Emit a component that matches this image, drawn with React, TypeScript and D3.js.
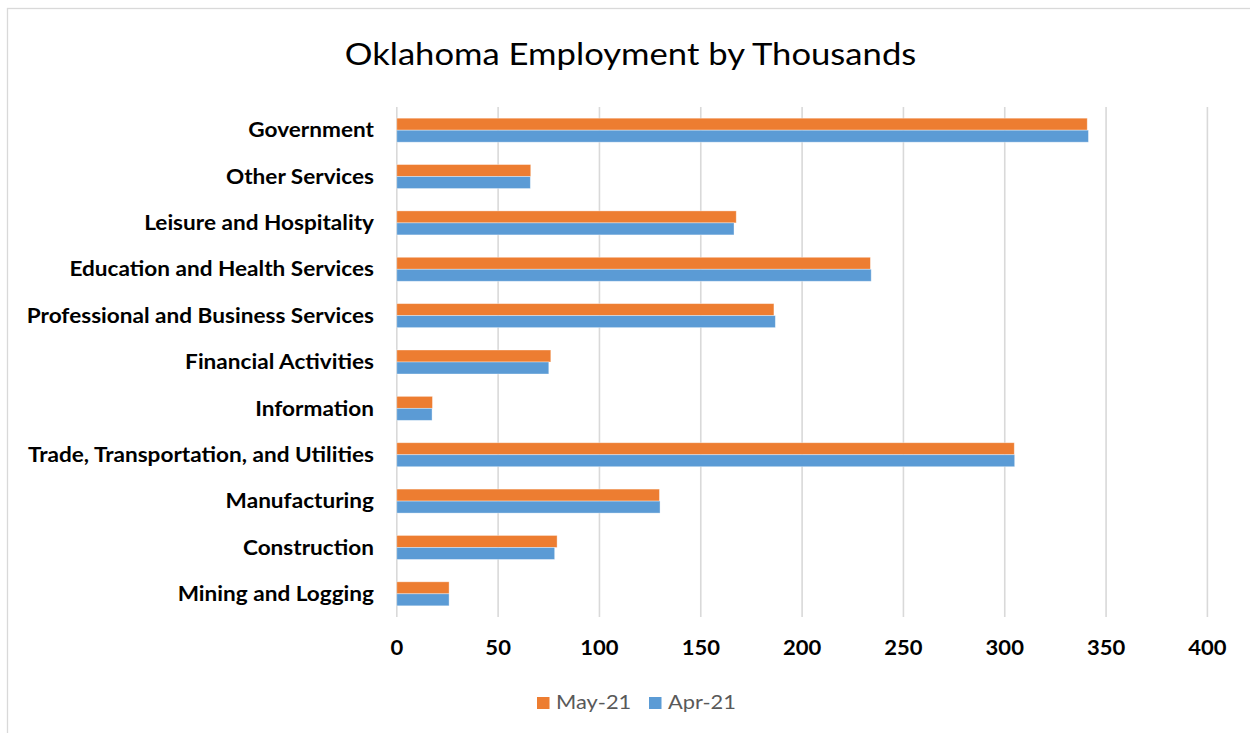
import React from "react";
import * as d3 from "d3";

const categories = [
  "Government",
  "Other Services",
  "Leisure and Hospitality",
  "Education and Health Services",
  "Professional and Business Services",
  "Financial Activities",
  "Information",
  "Trade, Transportation, and Utilities",
  "Manufacturing",
  "Construction",
  "Mining and Logging",
];
const may21 = [340.7, 66.1, 167.5, 233.7, 186.1, 76.0, 17.6, 304.7, 129.6, 79.1, 25.8];
const apr21 = [341.3, 65.9, 166.4, 234.1, 186.8, 75.0, 17.4, 304.9, 129.9, 77.9, 25.8];
const seriesNames = ["May-21", "Apr-21"];
const seriesColors = ["#ED7D31", "#5B9BD5"];
const xTicks = [0, 50, 100, 150, 200, 250, 300, 350, 400];
const title = "Oklahoma Employment by Thousands";

const W = 1250;
const H = 733;
const FONT = "Lato, 'Open Sans', sans-serif";

function Txt(props: {
  x: number;
  y: number;
  anchor?: string;
  size: number;
  sx: number;
  weight?: number;
  fill?: string;
  dy?: string;
  children: React.ReactNode;
}) {
  const { x, y, anchor = "start", size, sx, weight = 400, fill = "#000", dy, children } = props;
  return (
    <text
      transform={`translate(${x},${y}) scale(${sx},1)`}
      textAnchor={anchor}
      dy={dy}
      fontFamily={FONT}
      fontWeight={weight}
      fontSize={size}
      fill={fill}
    >
      {children}
    </text>
  );
}

export default function App() {
  const x = d3.scaleLinear().domain([0, 400]).range([396.8, 1207.4]);
  const pi = 1 - 24 / (510 / 11);
  const y = d3
    .scaleBand<string>()
    .domain(categories)
    .range([107, 617])
    .paddingInner(pi)
    .paddingOuter(pi / 2);
  const sub = d3.scaleBand<string>().domain(seriesNames).range([0, y.bandwidth()]);
  const values = [may21, apr21];

  return (
    <div style={{ position: "absolute", left: 0, top: 0 }}>
      <svg width={W} height={H} style={{ display: "block", background: "#fff" }}>
        <rect x={7.5} y={8.5} width={1400} height={900} fill="#fff" stroke="#d9d9d9" strokeWidth={1.3} />
        <Txt x={630.5} y={65} anchor="middle" size={31} sx={1.117}>
          {title}
        </Txt>
        {xTicks.map((t) => (
          <line key={"g" + t} x1={x(t)} x2={x(t)} y1={107} y2={617} stroke="#d9d9d9" strokeWidth={1.6} />
        ))}
        {categories.map((c, i) => (
          <g key={c} transform={`translate(0,${y(c)})`}>
            {seriesNames.map((s, k) => (
              <rect
                key={s}
                x={x(0)}
                y={sub(s)}
                width={x(values[k][i]) - x(0)}
                height={sub.bandwidth()}
                fill={seriesColors[k]}
                stroke="#ffffff"
                strokeOpacity={0.45}
                strokeWidth={0.8}
              />
            ))}
          </g>
        ))}
        {categories.map((c) => (
          <Txt
            key={"l" + c}
            x={374}
            y={(y(c) as number) + y.bandwidth() / 2}
            dy="0.36em"
            anchor="end"
            size={20}
            sx={1.13}
            weight={700}
          >
            {c}
          </Txt>
        ))}
        {xTicks.map((t) => (
          <Txt key={"t" + t} x={x(t)} y={655} anchor="middle" size={20} sx={1.1} weight={700}>
            {t}
          </Txt>
        ))}
        {seriesNames.map((s, k) => {
          const lx = [537, 649][k];
          return (
            <g key={"lg" + s}>
              <rect x={lx} y={697} width={12.5} height={12} fill={seriesColors[k]} />
              <Txt x={lx + 19} y={709} size={19.5} sx={1.12} fill="#595959">
                {s}
              </Txt>
            </g>
          );
        })}
      </svg>
    </div>
  );
}
